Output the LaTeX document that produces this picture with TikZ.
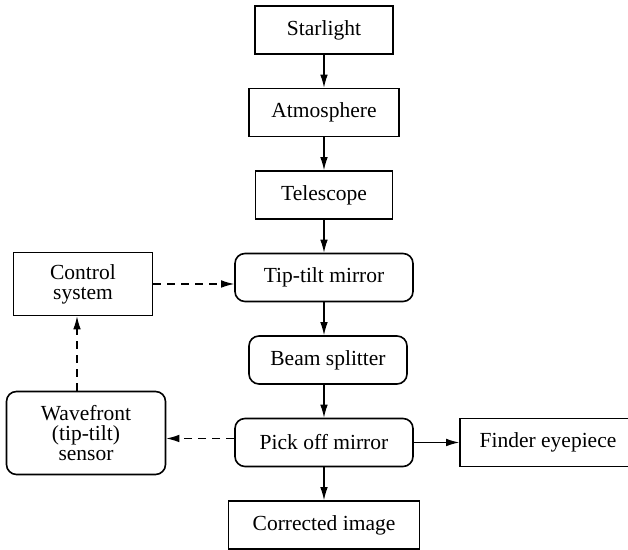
\documentclass[tikz,border=0pt]{standalone}
\usepackage{fontspec}
\setmainfont{Liberation Serif}
\usetikzlibrary{arrows.meta}
\tikzset{
  box/.style={draw, line width=0.8pt, minimum height=24pt, align=center,
    font=\fontsize{10.75}{10}\selectfont},
  rbox/.style={box, rounded corners=5pt},
  link/.style={->, line width=0.6pt},
  feedback/.style={link, dash pattern=on 4pt off 3pt}
}
\begin{document}
\begin{tikzpicture}[>={Latex[length=6.5pt,width=3.8pt]}, node distance=41.25pt]
  \useasboundingbox (0,0) rectangle (314pt,275pt);
  \node (star) [box, minimum width=69pt] at (162pt,260pt) {Starlight};
  \node (atmos) [box, minimum width=75pt, below of=star] {Atmosphere};
  \node (scope) [box, minimum width=68.5pt, below of=atmos] {Telescope};
  \node (tip) [rbox, minimum width=89pt, below of=scope] {Tip-tilt mirror};
  \node (split) [rbox, minimum width=79pt, below of=tip, xshift=2pt] {Beam splitter};
  \node (pick) [rbox, minimum width=89pt, below of=split, xshift=-2pt] {Pick off mirror};
  \node (image) [box, minimum width=95.5pt, below of=pick] {Corrected image};
  \node (ctrl) [box, minimum width=69.5pt, minimum height=31.5pt] at (41.5pt,133pt) {Control\\system};
  \node (wave) [rbox, minimum width=79.5pt, minimum height=41.5pt] at (43pt,58.5pt) {Wavefront\\(tip-tilt)\\sensor};
  \node (finder) [box, minimum width=88pt] at (274pt,53.75pt) {Finder eyepiece};
  \draw[link] (star) -- (atmos);
  \draw[link] (atmos) -- (scope);
  \draw[link] (scope) -- (tip);
  \draw[link] (tip.south) -- (tip.south |- split.north);
  \draw[link] (split.south -| pick.north) -- (pick.north);
  \draw[link] (pick) -- (image);
  \draw[link] (pick) -- (finder);
  \draw[feedback] (ctrl.east) -- (ctrl.east -| tip.west);
  \draw[feedback] ([yshift=2pt]pick.west) -- ([yshift=2pt]pick.west -| wave.east);
  \draw[feedback] ([xshift=-3pt]ctrl.south |- wave.north) -- ([xshift=-3pt]ctrl.south);
\end{tikzpicture}
\end{document}
